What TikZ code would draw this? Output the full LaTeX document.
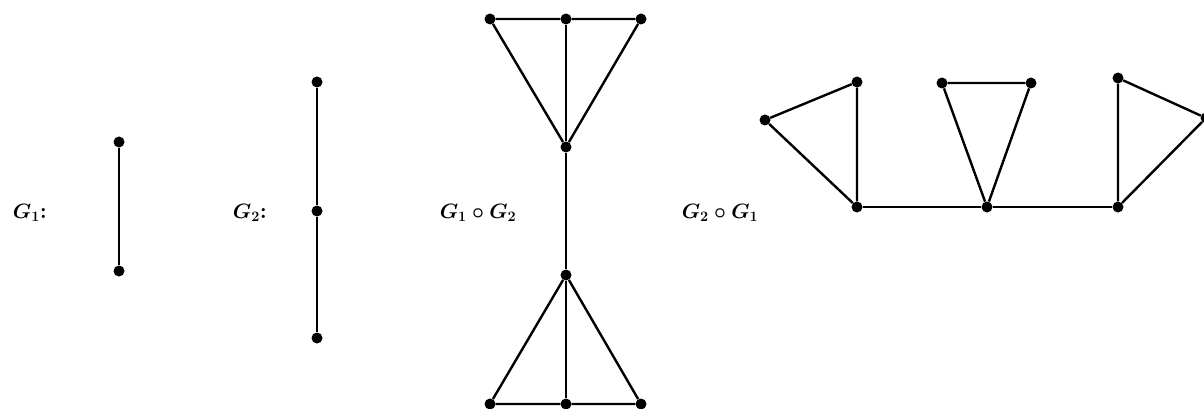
\documentclass[tikz,border=0pt]{standalone}
\begin{document}
\begin{tikzpicture}[x=1pt,y=-1pt,
  vtx/.style={circle,fill=black,inner sep=0pt,minimum size=11pt},
  edge/.style={line width=2.4pt},
  lbl/.style={font=\fontsize{22.5}{27}\selectfont\boldmath,inner sep=0pt}]
\useasboundingbox (0,0) rectangle (1204,409);
% labels
\node[lbl] (l1) at (30,213) {$G_1$\textbf{:}};
\node[lbl] (l2) at (250,213) {$G_2$\textbf{:}};
\node[lbl] (l3) at (478,213) {$G_1\circ G_2$};
\node[lbl] (l4) at (720,213) {$G_2\circ G_1$};
% G1
\node[vtx] (a1) at (119,142) {};
\node[vtx] (a2) at (119,271) {};
\draw[edge] (a1) -- (a2);
% G2
\node[vtx] (b1) at (317,82) {};
\node[vtx] (b2) at (317,211) {};
\node[vtx] (b3) at (317,338) {};
\draw[edge] (b1) -- (b2) -- (b3);
% G1 o G2
\node[vtx] (c1) at (490,19) {};
\node[vtx] (c2) at (566,19) {};
\node[vtx] (c3) at (641,19) {};
\node[vtx] (c4) at (566,147) {};
\node[vtx] (c5) at (566,275) {};
\node[vtx] (c6) at (490,404) {};
\node[vtx] (c7) at (566,404) {};
\node[vtx] (c8) at (641,404) {};
\draw[edge] (c1) -- (c2) -- (c3) -- (c4) -- (c1);
\draw[edge] (c2) -- (c4) -- (c5) -- (c7);
\draw[edge] (c6) -- (c7) -- (c8) -- (c5) -- (c6);
% G2 o G1
\node[vtx] (d1) at (765,120) {};
\node[vtx] (d2) at (857,82) {};
\node[vtx] (d3) at (857,207) {};
\node[vtx] (d4) at (942,83) {};
\node[vtx] (d5) at (1031,83) {};
\node[vtx] (d6) at (987,207) {};
\node[vtx] (d7) at (1118,78) {};
\node[vtx] (d8) at (1118,207) {};
\node[vtx] (d9) at (1206,118) {};
\draw[edge] (d1) -- (d2) -- (d3) -- (d1);
\draw[edge] (d4) -- (d5) -- (d6) -- (d4);
\draw[edge] (d7) -- (d9) -- (d8) -- (d7);
\draw[edge] (d3) -- (d6) -- (d8);
\end{tikzpicture}
\end{document}
